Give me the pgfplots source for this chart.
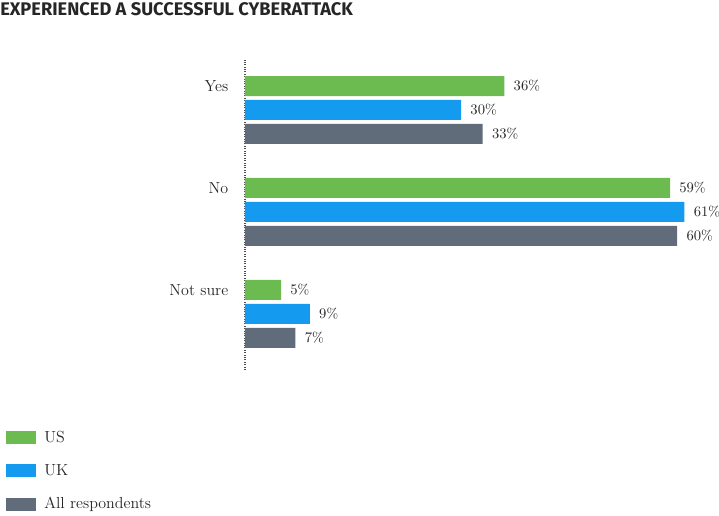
\documentclass[border=0pt]{standalone}
\usepackage{fontspec}
\usepackage{pgfplots}
\pgfplotsset{compat=1.18}
\newfontfamily\titlefont{Fira Sans}
\definecolor{usgreen}{RGB}{108,187,80}
\definecolor{ukblue}{RGB}{20,155,240}
\definecolor{allgray}{RGB}{96,108,122}

\begin{document}
\begin{tikzpicture}
\begin{axis}[
    name=ax,
    scale only axis,
    width=355.5pt, height=232.5pt,
    xbar, bar width=0.196,
    xmin=0, xmax=65.8,
    ymin=-0.55, ymax=2.49,
    axis x line=none,
    axis y line=left,
    y axis line style={-, densely dotted, black!70, line width=0.8pt},
    xtick=\empty,
    ytick={0.235,1.235,2.235},
    yticklabels={Not sure,No,Yes},
    major tick length=0pt,
    yticklabel style={font=\fontsize{12}{14}\selectfont, text=black!85, xshift=-9pt},
    nodes near coords={\pgfmathprintnumber\pgfplotspointmeta\%},
    nodes near coords style={font=\fontsize{10.5}{13}\selectfont, text=black!85, xshift=3.5pt},
    point meta=x,
    legend style={at={(-0.504,-0.188)}, anchor=north west, draw=none, fill=none,
        font=\fontsize{12}{14}\selectfont, text=black!85, row sep=11pt, inner sep=0pt,
        /tikz/every odd column/.append style={column sep=4pt},
        /tikz/every even column/.append style={column sep=6pt}},
    legend cell align=left,
    legend image code/.code={\fill[#1] (0pt,-4.9pt) rectangle (22.5pt,4.9pt);},
    clip=false,
]
\addplot[fill=usgreen, draw=none, bar shift=0.235] coordinates {(36,2) (59,1) (5,0)};
\addplot[fill=ukblue, draw=none, bar shift=0] coordinates {(30,2) (61,1) (9,0)};
\addplot[fill=allgray, draw=none, bar shift=-0.235] coordinates {(33,2) (60,1) (7,0)};
\legend{US, UK, All respondents}
\end{axis}
\node[anchor=north west, inner sep=0pt, font=\titlefont\bfseries\fontsize{13.7}{15}\selectfont, text=black!85]
    at ([shift={(-183.75pt,43pt)}]ax.north west) {EXPERIENCED A SUCCESSFUL CYBERATTACK};
\pgfresetboundingbox
\path ([shift={(-183.75pt,-108.75pt)}]ax.south west) rectangle ([shift={(0pt,45pt)}]ax.north east);
\end{tikzpicture}
\end{document}
